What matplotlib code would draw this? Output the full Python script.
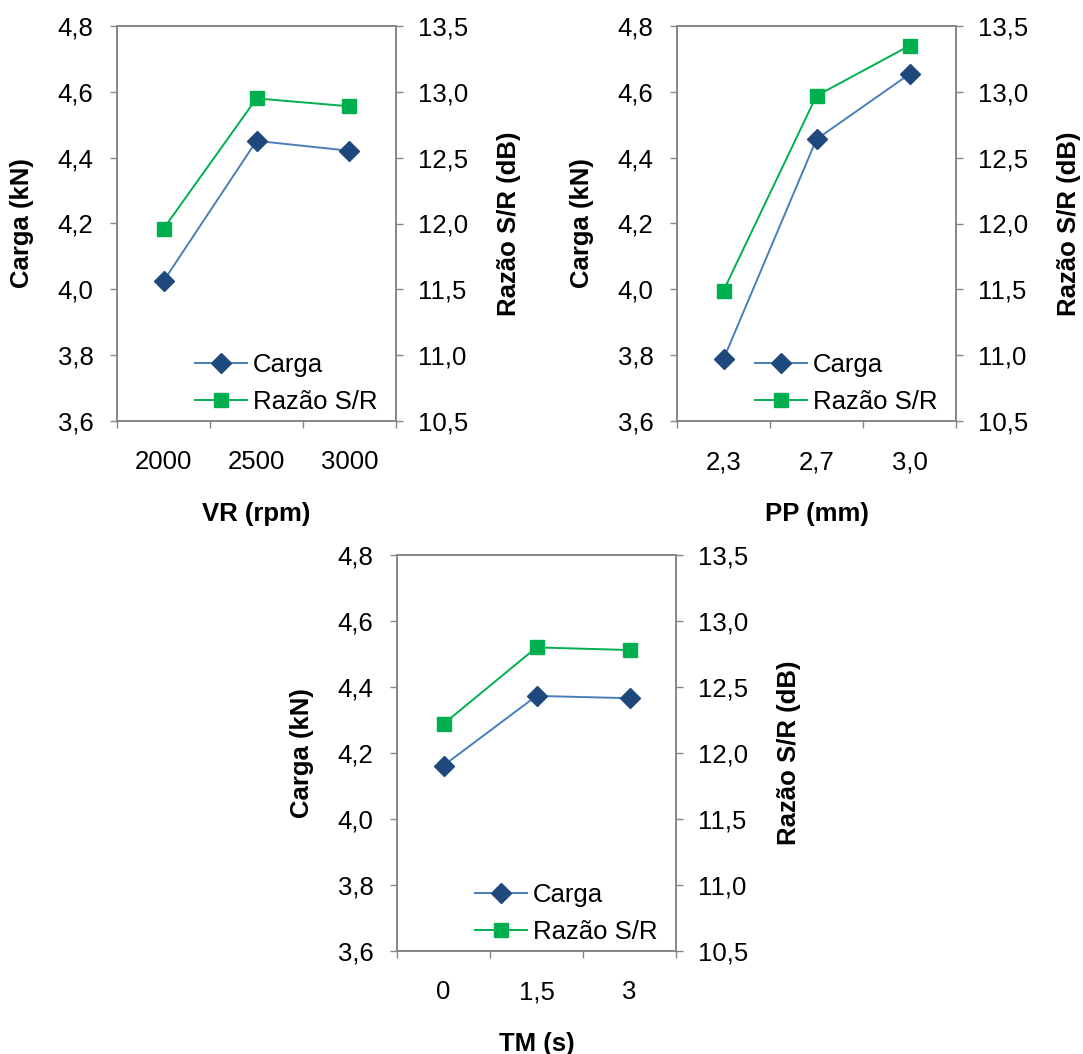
import numpy as np
import matplotlib
matplotlib.use("Agg")
import matplotlib.pyplot as plt
from matplotlib.ticker import FuncFormatter, FixedLocator

plt.rcParams['font.family'] = ['Liberation Sans', 'DejaVu Sans']

# efeitos principais de cada fator
vr_niveis = ['2000', '2500', '3000']
vr_carga = [4.025, 4.451, 4.421]
vr_sr = [11.96, 12.95, 12.89]

pp_niveis = ['2,3', '2,7', '3,0']
pp_carga = [3.788, 4.456, 4.654]
pp_sr = [11.49, 12.97, 13.35]

tm_niveis = ['0', '1,5', '3']
tm_carga = [4.162, 4.373, 4.366]
tm_sr = [12.22, 12.80, 12.78]

cinza = '#868686'
azul_linha = '#4A7EBB'
azul_marca = '#1F497D'
verde = '#00B050'
fs = 18.5

virgula = FuncFormatter(lambda v, p: f"{v:.1f}".replace('.', ','))

fig = plt.figure(figsize=(10.83, 10.54), dpi=100)


def grafico(pos, niveis, carga, sr, xlabel):
    ax = fig.add_axes(pos)
    ax2 = ax.twinx()
    x = np.arange(len(niveis))

    l1, = ax.plot(x, carga, color=azul_linha, lw=1.4, marker='D', ms=10,
                  mfc=azul_marca, mec=azul_marca, label='Carga')
    l2, = ax2.plot(x, sr, color=verde, lw=1.4, marker='s', ms=10,
                   mfc=verde, mec=verde, label='Razão S/R')

    ax.set_xlim(-0.5, 2.5)
    ax.set_ylim(3.6, 4.8)
    ax2.set_ylim(10.5, 13.5)
    ax.set_yticks(np.arange(3.6, 4.81, 0.2))
    ax2.set_yticks(np.arange(10.5, 13.51, 0.5))
    ax.yaxis.set_major_formatter(virgula)
    ax2.yaxis.set_major_formatter(virgula)

    # marcas entre categorias, rotulos no centro
    ax.xaxis.set_major_locator(FixedLocator([-0.5, 0.5, 1.5, 2.5]))
    ax.xaxis.set_major_formatter(FuncFormatter(lambda v, p: ''))
    ax.set_xticks(x, minor=True)
    ax.set_xticklabels(niveis, minor=True)
    ax.tick_params(axis='x', which='minor', length=0, pad=21, labelsize=fs)
    ax.tick_params(axis='x', which='major', length=5, width=1, color=cinza)

    ax.tick_params(axis='y', length=5, width=1, color=cinza, pad=12, labelsize=fs)
    ax2.tick_params(axis='y', length=5, width=1, color=cinza, pad=11, labelsize=fs)

    for a in (ax, ax2):
        for s in a.spines.values():
            s.set_color(cinza)
            s.set_linewidth(1.2)

    ax.set_xlabel(xlabel, fontsize=fs, fontweight='bold', va='center')
    ax.xaxis.set_label_coords(0.5, -0.235)
    ax.set_ylabel('Carga (kN)', fontsize=fs, fontweight='bold', va='center')
    ax.yaxis.set_label_coords(-0.34, 0.5)
    ax2.set_ylabel('Razão S/R (dB)', fontsize=fs, fontweight='bold', va='center')
    ax2.yaxis.set_label_coords(1.405, 0.5)

    ax2.legend([l1, l2], ['Carga', 'Razão S/R'], loc='lower right',
               bbox_to_anchor=(0.971, -0.008), frameon=False, fontsize=fs,
               handlelength=2.0, handletextpad=0.25, labelspacing=0.5,
               borderaxespad=0.0)
    return ax, ax2


grafico([117/1083, 1 - 421/1054, 279/1083, 395/1054],
        vr_niveis, vr_carga, vr_sr, 'VR (rpm)')
grafico([677/1083, 1 - 421/1054, 279/1083, 395/1054],
        pp_niveis, pp_carga, pp_sr, 'PP (mm)')
grafico([397/1083, 1 - 951/1054, 279/1083, 396/1054],
        tm_niveis, tm_carga, tm_sr, 'TM (s)')

fig.savefig('out.png', dpi=100)
